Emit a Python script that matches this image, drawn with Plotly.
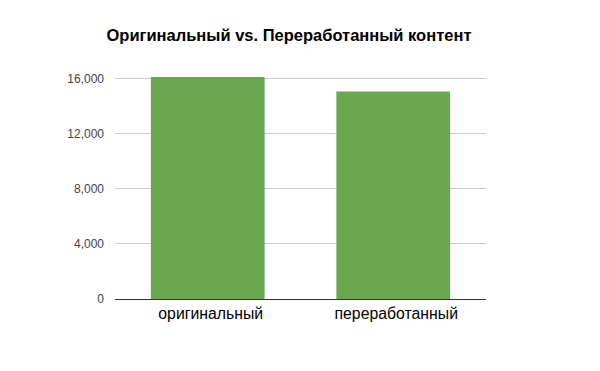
import plotly.graph_objects as go

categories = ["оригинальный", "переработанный"]
values = [16120, 15080]
tick_vals = [0, 4000, 8000, 12000, 16000]
tick_text = ["0", "4,000", "8,000", "12,000", "16,000"]

fig = go.Figure(go.Bar(x=categories, y=values, marker_color="#6aa84f",
                       marker_line_width=0, hoverinfo="skip"))

fig.update_layout(
    width=600, height=371,
    margin=dict(l=115, r=114, t=75.5, b=72),
    paper_bgcolor="white", plot_bgcolor="white",
    bargap=0.387,
    showlegend=False,
    font=dict(family="Liberation Sans, Arial, sans-serif"),
    title=dict(text="<b>Оригинальный vs. Переработанный контент</b>",
               font=dict(size=16.5, color="#000000"),
               xref="container", x=289/600, xanchor="center",
               yref="container", y=1-35/371, yanchor="middle"),
)
fig.update_yaxes(range=[0, 16200], tickvals=tick_vals, ticktext=tick_text,
                 showgrid=True, gridcolor="#cccccc", gridwidth=1,
                 zeroline=False, showline=False, ticks="",
                 ticklabelstandoff=10,
                 tickfont=dict(size=12, color="#444444"))
fig.update_xaxes(showline=True, linecolor="#333333", linewidth=1,
                 ticks="", ticklabelshift=3,
                 tickfont=dict(size=15.8, color="#000000"))

fig.write_html("out.html", config={"displayModeBar": False},
               post_script="document.body.style.margin='0';")
